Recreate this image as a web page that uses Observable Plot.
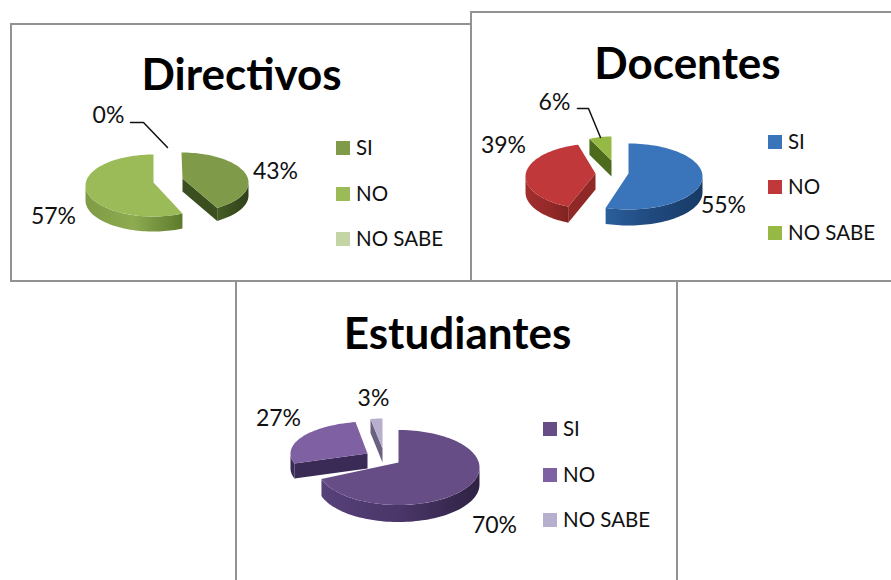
<!DOCTYPE html>
<html><head><meta charset="utf-8">
<script src="https://cdn.jsdelivr.net/npm/d3@7"></script>
<script src="https://cdn.jsdelivr.net/npm/@observablehq/plot@0.6"></script>
<style>html,body{margin:0;padding:0;background:#fff}svg{display:block}</style>
</head><body><div id="chart"></div>
<script>
// ---- data ----
const categories = ["SI", "NO", "NO SABE"];
const titles = ["Directivos", "Docentes", "Estudiantes"];
const directivos = [43, 57, 0];
const docentes = [55, 39, 6];
const estudiantes = [70, 27, 3];

// ---- layout & style (page pixels, mapped by identity x/y scales) ----
const W = 891, H = 580;
const panels = [
  {title: titles[0], values: directivos, frame: [11, 24, 471, 281], titleAt: [241, 88],
   legend: {x: 336, ys: [141, 187, 232]},
   colors: ["#7f9a48", "#9bbb59", "#c3d5a4"],
   labels: [[275, 171], [53, 216], [108, 115]],
   slices: [
     {cx: 181, cy: 182, ax: 182, ay: 178, rx: 67, ry: 30, d: 13, rot: 0, da1: -7, wall: "wallDark1", edge: "#3a4e1f"},
     {cx: 153, cy: 185, ax: 153, ay: 182, rx: 68, ry: 31, d: 15, rot: 0, wall: "wallGreen", edge: "#7d9b44"},
     null],
   leader: [[130, 122], [143, 122], [167, 147]]},
  {title: titles[1], values: docentes, frame: [471, 12, 900, 281], titleAt: [687, 77],
   legend: {x: 768, ys: [135, 180, 226]},
   colors: ["#3a74bb", "#c0383a", "#95b944"],
   labels: [[723, 205], [503, 145], [554, 102]],
   slices: [
     {cx: 628, cy: 176, ax: 628, ay: 173, rx: 74, ry: 33, d: 16, rot: 0, wall: "wallBlue", edge: "#1f4a80"},
     {cx: 597, cy: 176, ax: 595, ay: 173, rx: 72, ry: 33, d: 16, rot: 6, wall: "wallRed", edge: "#8f2826"},
     {cx: 611, cy: 169, ax: 611, ay: 160, rx: 60, ry: 33, d: 16, rot: 0, wall: "wallDark2", edge: "#4d6a1d"}],
   leader: [[577, 108], [588, 108], [600, 137]]},
  {title: titles[2], values: estudiantes, frame: [236, 281, 677, 600], titleAt: [457, 347],
   legend: {x: 543, ys: [422, 468, 513]},
   colors: ["#664d85", "#7f60a2", "#b8aecd"],
   labels: [[494, 525], [278, 418], [373, 398]],
   slices: [
     {cx: 398, cy: 467, ax: 398, ay: 462, rx: 81, ry: 37.5, d: 17, rot: 0, wall: "wallPurple", edge: "#3d2d55"},
     {cx: 370, cy: 453, ax: 367, ay: 453, rx: 80, ry: 32, d: 15, rot: 0, wall: "wallPurple2", edge: "#3a2a56"},
     {cx: 382, cy: 450, ax: 382, ay: 448, rx: 64, ry: 32, d: 14, rot: 0, wall: "wallLilac", edge: "#6a6080"}],
   leader: null}
];
const gradients = {
  wallDark1: ["#465e25", "#3a4e1f", "#30421a"],
  wallGreen: ["#7f9c45", "#8dab50", "#5c7a2c"],
  wallBlue: ["#2a5e9c", "#20497d", "#173a66"],
  wallRed: ["#a12f2e", "#962a29", "#7f2321"],
  wallDark2: ["#4d6a1d", "#4d6a1d", "#4d6a1d"],
  wallPurple: ["#57417a", "#4a3668", "#2f2244"],
  wallPurple2: ["#3a2a56", "#3a2a56", "#3a2a56"],
  wallLilac: ["#6a6080", "#6a6080", "#6a6080"]
};
const FONT = "Lato, sans-serif";

function defs() {
  const d = d3.create("svg:defs");
  for (const [id, stops] of Object.entries(gradients)) {
    const g = d.append("linearGradient").attr("id", id);
    stops.forEach((c, i) => g.append("stop").attr("offset", i / (stops.length - 1)).attr("stop-color", c));
  }
  return d.node();
}

// point on a slice's ellipse; angle clockwise from 12 o'clock
const pt = (s, a, dy = 0) => ({x: s.cx + s.rx * Math.sin(a), y: s.cy - s.ry * Math.cos(a) + dy});
const arcPts = (s, a0, a1, dy = 0) => {
  const n = Math.max(2, Math.ceil(Math.abs(a1 - a0) / 0.04));
  return d3.range(n + 1).map(i => pt(s, a0 + (a1 - a0) * i / n, dy));
};
const shape = (pts, fill) => Plot.line(pts, {x: "x", y: "y", fill, stroke: "none", imageFilter: "blur(0.4px)"});

const marks = [defs];
for (const p of panels) {
  marks.push(Plot.rect([p.frame], {x1: "0", y1: "1", x2: "2", y2: "3", fill: "white", stroke: "#929292", strokeWidth: 2}));
}
for (const p of panels) {
  const arcs = d3.pie().sort(null).startAngle(0).endAngle(2 * Math.PI)(p.values);
  arcs.forEach((arc, i) => {
    const s = p.slices[i];
    if (!s || arc.value === 0) return;
    const r = s.rot * Math.PI / 180;
    const a0 = arc.startAngle + r, a1 = arc.endAngle + r + (s.da1 || 0) * Math.PI / 180;
    const apex = {x: s.ax, y: s.ay}, apexB = {x: s.ax, y: s.ay + s.d};
    // outer side wall: the front half of the rim only
    const w0 = Math.max(a0, Math.PI / 2), w1 = Math.min(a1, 3 * Math.PI / 2);
    if (w1 > w0) marks.push(shape([...arcPts(s, w0, w1), ...arcPts(s, w1, w0, s.d)], `url(#${s.wall})`));
    // cut walls facing the viewer
    if (Math.sin(a0) < -1e-6) {
      const P = pt(s, a0), Q = pt(s, a0, s.d);
      marks.push(shape([apex, P, Q, apexB], s.edge));
    }
    if (Math.sin(a1) > 1e-6) {
      const P = pt(s, a1), Q = pt(s, a1, s.d);
      marks.push(shape([apex, P, Q, apexB], s.edge));
    }
    // top face
    marks.push(shape([apex, ...arcPts(s, a0, a1)], p.colors[i]));
  });
  if (p.leader) marks.push(Plot.line(p.leader, {x: "0", y: "1", stroke: "#111", strokeWidth: 1.5}));
  marks.push(Plot.text([p.title], {x: p.titleAt[0], y: p.titleAt[1], text: d => d, textAnchor: "middle", lineAnchor: "bottom",
    fontSize: 44, fontWeight: 700, fontFamily: FONT, fill: "black", dy: 1}));
  marks.push(Plot.text(p.values, {x: (d, i) => p.labels[i][0], y: (d, i) => p.labels[i][1], text: d => `${d}%`,
    textAnchor: "middle", lineAnchor: "middle", fontSize: 23, fontFamily: FONT, fill: "#111"}));
  marks.push(Plot.rect(categories, {x1: p.legend.x, x2: p.legend.x + 14, y1: (d, i) => p.legend.ys[i], y2: (d, i) => p.legend.ys[i] + 14,
    fill: (d, i) => p.colors[i]}));
  marks.push(Plot.text(categories, {x: p.legend.x + 19.5, y: (d, i) => p.legend.ys[i] + 7, text: d => d,
    textAnchor: "start", lineAnchor: "middle", fontSize: 20.5, fontFamily: FONT, fill: "#111"}));
}

const chart = Plot.plot({
  width: W, height: H, margin: 0,
  x: {axis: null, domain: [0, W], range: [0, W]},
  y: {axis: null, domain: [0, H], range: [0, H]},
  color: {type: "identity"},
  style: {background: "white"},
  marks
});
document.getElementById("chart").append(chart);
</script></body></html>
